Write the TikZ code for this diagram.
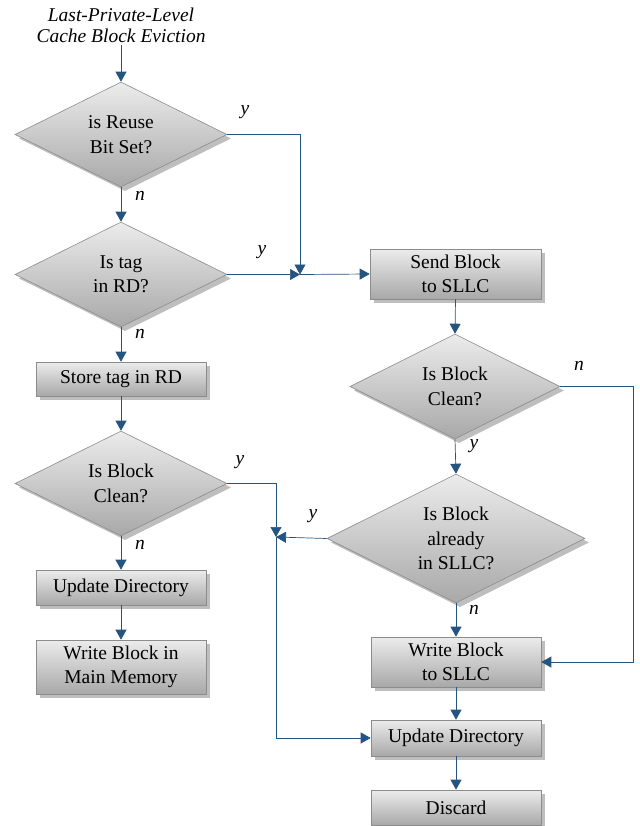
\documentclass[tikz,border=0pt]{standalone}
\usepackage{fontspec}
\setmainfont{Liberation Serif}
\usetikzlibrary{shapes.geometric,shadows,arrows.meta}
\definecolor{conn}{RGB}{38,84,128}
\definecolor{bordergray}{RGB}{140,140,140}
\definecolor{shadowgray}{RGB}{190,190,190}
\definecolor{topgray}{RGB}{236,236,236}
\definecolor{botgray}{RGB}{168,168,168}
\tikzset{
  base/.style={font=\fontsize{19.5}{24.5}\selectfont, align=center, inner sep=0pt},
  procbox/.style={base, rectangle, draw=bordergray, line width=0.6pt,
    top color=topgray, bottom color=botgray,
    drop shadow={shadow xshift=4pt, shadow yshift=-4pt, fill=shadowgray, opacity=1}},
  decis/.style={base, diamond, aspect=2, draw=bordergray, line width=0.6pt,
    top color=topgray, bottom color=botgray,
    drop shadow={shadow xshift=4pt, shadow yshift=-4pt, fill=shadowgray, opacity=1}},
  lbl/.style={font=\fontsize{19.5}{24.5}\selectfont\itshape, inner sep=0pt},
  arr/.style={draw=conn, line width=0.7pt, -{Triangle[length=10pt,width=11pt]}},
  ln/.style={draw=conn, line width=0.7pt},
}
\begin{document}
\begin{tikzpicture}[x=1pt,y=-1pt]
\useasboundingbox (0,0) rectangle (639,826);
% left column
\node[base, font=\fontsize{19.5}{21}\selectfont\itshape] (start) at (121,25.5) {Last-Private-Level\\Cache Block Eviction};
\node[decis, minimum width=212pt, minimum height=105pt] (d1) at (121,134.5) {is Reuse\\Bit Set?};
\node[decis, minimum width=212pt, minimum height=105pt] (d2) at (121,274.5) {Is tag\\in RD?};
\node[procbox, minimum width=170pt, minimum height=34pt] (store) at (121,379) {Store tag in RD};
\node[decis, minimum width=212pt, minimum height=105pt] (d3) at (121,483.5) {Is Block\\Clean?};
\node[procbox, minimum width=170pt, minimum height=35pt] (upd1) at (121,587.5) {Update Directory};
\node[procbox, minimum width=170pt, minimum height=54pt] (wmm) at (121,667) {Write Block in\\Main Memory};
% right column
\node[procbox, minimum width=171pt, minimum height=50pt] (send) at (455.5,274) {Send Block\\to SLLC};
\node[decis, minimum width=210pt, minimum height=105pt] (d4) at (455,386.5) {Is Block\\Clean?};
\node[decis, minimum width=258pt, minimum height=129pt] (d5) at (456,538.5) {Is Block\\already\\in SLLC?};
\node[procbox, minimum width=170pt, minimum height=50pt] (wsllc) at (456,662) {Write Block\\to SLLC};
\node[procbox, minimum width=170pt, minimum height=36pt] (upd2) at (456,738) {Update Directory};
\node[procbox, minimum width=170pt, minimum height=35pt] (disc) at (456,807.5) {Discard};
% junctions
\coordinate (j1) at (300,274.5);
\coordinate (j2) at (276,537);
% labels
\node[lbl] (ly1) at (245,112) {y};
\node[lbl] (ln1) at (140,196) {n};
\node[lbl] (ly2) at (262,252) {y};
\node[lbl] (ln2) at (140,334) {n};
\node[lbl] (ly3) at (240,462) {y};
\node[lbl] (ln3) at (140,545) {n};
\node[lbl] (ln4) at (579,366) {n};
\node[lbl] (ly4) at (474,446) {y};
\node[lbl] (ly5) at (313,516) {y};
\node[lbl] (ln5) at (474,610) {n};
% connectors
\draw[arr] (start.south) ++(0,2) -- (d1.north);
\draw[arr] (d1.south) -- (d2.north);
\draw[arr] (d1.east) -| (j1);
\draw[arr] (d2.east) -- (j1);
\draw[arr] (j1) -- (send.west);
\draw[arr] (d2.south) -- (store.north);
\draw[arr] (store.south) -- (d3.north);
\draw[arr] (d3.east) -| (j2);
\draw[arr] (d3.south) -- (upd1.north);
\draw[arr] (upd1.south) -- (wmm.north);
\draw[arr] (send.south) -- (d4.north);
\draw[arr] (d4.east) -- ++(73,0) |- (wsllc.east);
\draw[arr] (d4.south) -- (d5.north);
\draw[arr] (d5.west) -- (j2);
\draw[arr] (j2) |- (upd2.west);
\draw[arr] (d5.south) -- (wsllc.north);
\draw[arr] (wsllc.south) -- (upd2.north);
\draw[arr] (upd2.south) -- (disc.north);
\end{tikzpicture}
\end{document}
